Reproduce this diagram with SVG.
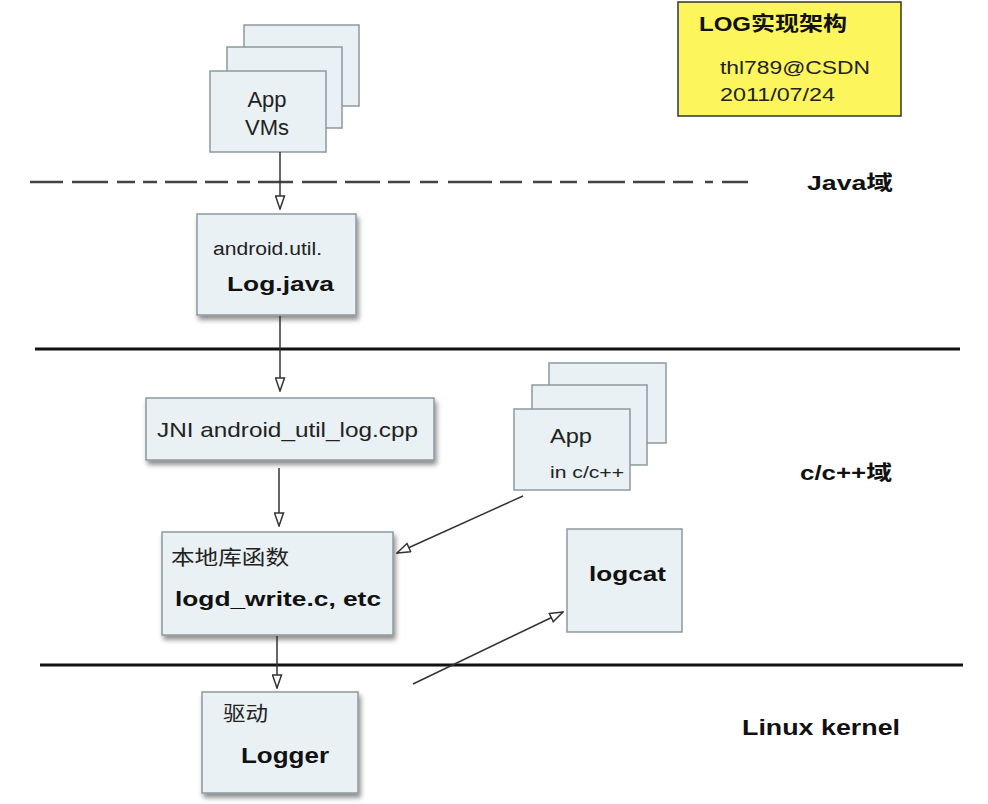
<svg xmlns="http://www.w3.org/2000/svg" width="988" height="804" viewBox="0 0 988 804">
<defs>
<style>
.box{fill:#e9f1f4;stroke:#8d999e;stroke-width:1.5}
.t{font-family:"Liberation Sans","Noto Sans CJK SC",sans-serif;fill:#222}
.b{font-family:"Liberation Sans","Noto Sans CJK SC",sans-serif;font-weight:bold;fill:#111}
.conn{stroke:#333;stroke-width:1.5;fill:none;marker-end:url(#arr)}
.sep{stroke:#111;stroke-width:3}
</style>
<filter id="sh" x="-10%" y="-10%" width="125%" height="135%">
<feDropShadow dx="2" dy="4" stdDeviation="2.5" flood-color="#000" flood-opacity="0.45"/>
</filter>
<marker id="arr" viewBox="0 0 15 11" refX="14" refY="5.5" markerWidth="15" markerHeight="11" markerUnits="userSpaceOnUse" orient="auto">
<path d="M1,1 L14,5.5 L1,10 Z" fill="#fff" stroke="#333" stroke-width="1.5"/>
</marker>
</defs>
<rect width="988" height="804" fill="#fff"/>

<g id="separators">
<line x1="30" y1="182" x2="748" y2="182" stroke="#444" stroke-width="2.5" stroke-dasharray="33 9 36 9 18 8 14 8 32 8 23 9 13 8 35 9 35 8 35 8 22 10 18 10 44 8 22 11 19 8 17 11 37 8 32 8 20 12 8 9 26 20"/>
<line class="sep" x1="35" y1="349" x2="960" y2="349"/>
<line class="sep" x1="40" y1="665" x2="963" y2="665"/>
</g>

<g id="title">
<rect x="678" y="2" width="223" height="114" fill="#fcf55c" stroke="#333" stroke-width="1.5"/>
<text class="b" x="699" y="31" font-size="20" textLength="148" lengthAdjust="spacingAndGlyphs">LOG实现架构</text>
<text class="t" x="720" y="74" font-size="18" textLength="150" lengthAdjust="spacingAndGlyphs">thl789@CSDN</text>
<text class="t" x="720" y="101" font-size="18" textLength="115" lengthAdjust="spacingAndGlyphs">2011/07/24</text>
</g>

<g id="domain-labels">
<text class="b" x="807" y="190" font-size="20" textLength="86" lengthAdjust="spacingAndGlyphs">Java域</text>
<text class="b" x="800" y="480" font-size="20" textLength="92" lengthAdjust="spacingAndGlyphs">c/c++域</text>
<text class="b" x="742" y="735" font-size="22" textLength="158" lengthAdjust="spacingAndGlyphs">Linux kernel</text>
</g>

<g id="app-vms">
<rect class="box" x="244" y="25" width="115" height="81"/>
<rect class="box" x="227" y="47" width="115" height="81"/>
<rect class="box" x="210" y="71" width="116" height="81"/>
<text class="t" x="267" y="107" font-size="22" text-anchor="middle">App</text>
<text class="t" x="267" y="135" font-size="22" text-anchor="middle">VMs</text>
</g>

<g id="log-java">
<rect class="box" x="197" y="214" width="159" height="101" filter="url(#sh)"/>
<text class="t" x="213" y="255" font-size="18" textLength="109" lengthAdjust="spacingAndGlyphs">android.util.</text>
<text class="b" x="227" y="291" font-size="21" textLength="107" lengthAdjust="spacingAndGlyphs">Log.java</text>
</g>

<g id="jni">
<rect class="box" x="146" y="398" width="288" height="62" filter="url(#sh)"/>
<text class="t" x="157" y="437" font-size="21" textLength="261" lengthAdjust="spacingAndGlyphs">JNI android_util_log.cpp</text>
</g>

<g id="native-lib">
<rect class="box" x="162" y="532" width="231" height="103" filter="url(#sh)"/>
<text class="t" x="171" y="565" font-size="20" textLength="118" lengthAdjust="spacingAndGlyphs">本地库函数</text>
<text class="b" x="175" y="606" font-size="21" textLength="206" lengthAdjust="spacingAndGlyphs">logd_write.c, etc</text>
</g>

<g id="app-cpp">
<rect class="box" x="549" y="363" width="117" height="80"/>
<rect class="box" x="532" y="385" width="115" height="80"/>
<rect class="box" x="514" y="409" width="116" height="81"/>
<text class="t" x="550" y="443" font-size="20" textLength="42" lengthAdjust="spacingAndGlyphs">App</text>
<text class="t" x="550" y="478" font-size="16" textLength="74" lengthAdjust="spacingAndGlyphs">in c/c++</text>
</g>

<g id="logcat">
<rect class="box" x="567" y="529" width="115" height="103"/>
<text class="b" x="589" y="581" font-size="21" textLength="77" lengthAdjust="spacingAndGlyphs">logcat</text>
</g>

<g id="logger">
<rect class="box" x="202" y="692" width="156" height="101" filter="url(#sh)"/>
<text class="t" x="223" y="721" font-size="20" textLength="45" lengthAdjust="spacingAndGlyphs">驱动</text>
<text class="b" x="241" y="763" font-size="22" textLength="88" lengthAdjust="spacingAndGlyphs">Logger</text>
</g>

<g id="connectors">
<line class="conn" x1="280" y1="152" x2="280" y2="209"/>
<line class="conn" x1="280" y1="316" x2="280" y2="391"/>
<line class="conn" x1="279" y1="468" x2="279" y2="526"/>
<line class="conn" x1="523" y1="496" x2="397" y2="553"/>
<line class="conn" x1="277" y1="636" x2="277" y2="688"/>
<line class="conn" x1="413" y1="684" x2="563" y2="612"/>
</g>
</svg>
